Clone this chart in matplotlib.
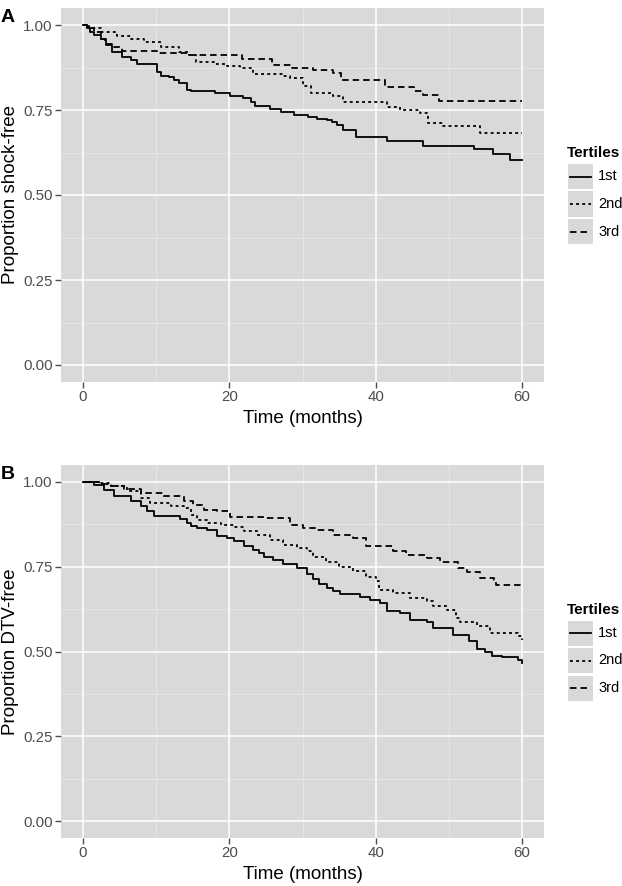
import numpy as np
import matplotlib
matplotlib.use('Agg')
import matplotlib.pyplot as plt
from matplotlib.patches import Rectangle
from matplotlib.lines import Line2D

plt.rcParams['font.family'] = ['Liberation Sans', 'DejaVu Sans']

# panel A: shock-free survival by tertile (step points)
a1_t = [0, 0.5, 1.0, 1.5, 2.4, 3.2, 4.0, 5.3, 6.6, 7.4, 10.1, 10.6, 11.7, 12.4, 13.1, 14.2, 14.7,
        18.1, 20.1, 21.9, 22.9, 23.5, 25.6, 27.0, 28.8, 30.8, 32.0, 33.3, 34.0, 34.7, 35.6, 37.3,
        41.5, 46.5, 53.5, 56.0, 58.4, 60]
a1_s = [1.0, 0.99, 0.98, 0.97, 0.958, 0.94, 0.92, 0.905, 0.898, 0.885, 0.862, 0.85, 0.846, 0.837,
        0.828, 0.81, 0.805, 0.80, 0.79, 0.785, 0.775, 0.762, 0.752, 0.745, 0.735, 0.728, 0.725,
        0.72, 0.714, 0.705, 0.69, 0.672, 0.66, 0.645, 0.635, 0.62, 0.604, 0.604]
a2_t = [0, 0.8, 2.4, 4.7, 6.5, 8.3, 10.6, 13.1, 14.5, 15.4, 17.9, 19.7, 21.5, 23.3, 27.4, 28.3,
        30.0, 31.2, 34.2, 35.6, 41.5, 43.3, 46.0, 47.2, 49.2, 54.3, 60]
a2_s = [1.0, 0.99, 0.98, 0.967, 0.96, 0.95, 0.935, 0.92, 0.912, 0.89, 0.885, 0.88, 0.873, 0.857,
        0.85, 0.845, 0.822, 0.80, 0.792, 0.775, 0.76, 0.75, 0.74, 0.713, 0.703, 0.683, 0.683]
a3_t = [0, 0.6, 1.5, 2.4, 3.0, 4.0, 5.4, 10.1, 14.5, 21.7, 25.8, 28.6, 31.5, 34.1, 35.2, 41.3,
        45.3, 46.5, 48.6, 60]
a3_s = [1.0, 0.99, 0.98, 0.958, 0.945, 0.935, 0.925, 0.917, 0.912, 0.90, 0.882, 0.875, 0.868,
        0.858, 0.838, 0.817, 0.807, 0.793, 0.777, 0.777]

# panel B: DTV-free survival by tertile
b1_t = [0, 1.5, 2.9, 4.2, 6.5, 7.9, 8.8, 9.7, 13.3, 14.2, 14.7, 15.6, 17.0, 18.3, 19.7, 20.6,
        22.0, 23.3, 24.0, 24.7, 26.0, 27.4, 29.2, 30.6, 31.5, 32.3, 33.3, 34.1, 35.1, 37.8, 39.2,
        40.6, 41.5, 43.3, 44.7, 47.0, 47.9, 50.6, 52.7, 53.9, 55.0, 55.9, 57.2, 59.5, 60]
b1_s = [1.0, 0.992, 0.977, 0.958, 0.943, 0.928, 0.915, 0.90, 0.89, 0.878, 0.87, 0.864, 0.857,
        0.84, 0.835, 0.825, 0.812, 0.80, 0.79, 0.78, 0.77, 0.758, 0.745, 0.73, 0.715, 0.70,
        0.687, 0.677, 0.67, 0.662, 0.652, 0.643, 0.618, 0.613, 0.592, 0.586, 0.569, 0.549, 0.53,
        0.507, 0.50, 0.487, 0.483, 0.475, 0.466]
b2_t = [0, 2.0, 3.8, 6.0, 7.9, 9.2, 12.0, 13.8, 14.7, 15.6, 17.0, 18.8, 20.6, 22.0, 23.8, 25.6,
        27.4, 29.2, 30.6, 31.5, 33.2, 35.0, 36.9, 38.7, 40.0, 40.4, 42.3, 44.7, 47.0, 47.9, 49.7,
        51.0, 51.5, 53.8, 55.6, 58.4, 59.5, 60]
b2_s = [1.0, 0.997, 0.987, 0.972, 0.953, 0.938, 0.928, 0.923, 0.903, 0.889, 0.879, 0.874, 0.867,
        0.854, 0.844, 0.83, 0.815, 0.805, 0.795, 0.78, 0.763, 0.75, 0.737, 0.72, 0.707, 0.682,
        0.672, 0.657, 0.65, 0.633, 0.621, 0.60, 0.586, 0.574, 0.556, 0.554, 0.545, 0.534]
b3_t = [0, 2.4, 3.8, 5.6, 7.9, 11.0, 13.8, 15.1, 16.5, 18.3, 20.1, 24.7, 28.3, 30.1, 32.0, 34.1,
        36.9, 38.7, 42.4, 44.2, 47.0, 48.8, 51.3, 52.5, 54.3, 56.1, 56.4, 60]
b3_s = [1.0, 0.995, 0.987, 0.98, 0.968, 0.96, 0.943, 0.933, 0.918, 0.913, 0.897, 0.894, 0.874,
        0.864, 0.857, 0.845, 0.835, 0.812, 0.795, 0.785, 0.776, 0.763, 0.746, 0.735, 0.716,
        0.711, 0.697, 0.697]

tertiles = ['1st', '2nd', '3rd']
styles = [dict(linestyle='-'), dict(dashes=(1.6, 1.8)), dict(dashes=(3.6, 2.2))]

bg = '#D9D9D9'
tick_col = '#4D4D4D'
lw = 1.3

fig = plt.figure(figsize=(6.22, 8.86), dpi=100)
W, H = 622., 886.


def panel(rect, curves, ylab, letter):
    ax = fig.add_axes(rect)
    ax.set_facecolor(bg)
    for sp in ax.spines.values():
        sp.set_visible(False)
    ax.set_xlim(-3, 63)
    ax.set_ylim(-0.05, 1.05)
    ax.set_xticks([0, 20, 40, 60])
    ax.set_yticks([0, 0.25, 0.5, 0.75, 1.0])
    ax.set_yticklabels(['0.00', '0.25', '0.50', '0.75', '1.00'])
    ax.set_xticks([10, 30, 50], minor=True)
    ax.set_yticks([0.125, 0.375, 0.625, 0.875], minor=True)
    ax.grid(True, which='major', color='white', lw=1.1)
    ax.grid(True, which='minor', color='#EBEBEB', lw=0.5)
    ax.set_axisbelow(True)
    ax.tick_params(which='major', length=4.3, width=1.0, color=tick_col, labelcolor=tick_col,
                   labelsize=10.8, pad=1.8)
    ax.tick_params(which='minor', length=0)
    for (t, s), st in zip(curves, styles):
        ax.step(t, s, where='post', color='black', lw=lw, **st)
    ax.set_xlabel('Time (months)', fontsize=13.5)
    ax.xaxis.set_label_coords(0.5, -0.075)
    ax.xaxis.label.set_va('top')
    ax.set_ylabel(ylab, fontsize=13.5)
    ax.yaxis.set_label_coords(-0.086, 0.5)

    # panel letter
    top_px = H * (1 - rect[1] - rect[3])
    fig.text(1 / W, 1 - (top_px + 14) / H, letter, fontsize=14, fontweight='bold')

    # legend drawn by hand (ggplot style with grey key boxes)
    cy = H * (1 - rect[1] - rect[3] / 2)
    title_top = cy - 49
    fig.text(567 / W, 1 - title_top / H, 'Tertiles', fontsize=11, fontweight='bold',
             va='top', ha='left')
    box0 = title_top + 18
    for i, (lab, st) in enumerate(zip(tertiles, styles)):
        y0 = box0 + i * 27.5
        fig.add_artist(Rectangle((567.5 / W, 1 - (y0 + 25) / H), 25 / W, 25 / H,
                                 transform=fig.transFigure, facecolor=bg, edgecolor='none'))
        yc = 1 - (y0 + 12.5) / H
        fig.add_artist(Line2D([569.5 / W, 591 / W], [yc, yc], transform=fig.transFigure,
                              color='black', lw=lw, **st))
        fig.text(598 / W, yc, lab, fontsize=10.5, va='center', ha='left')
    return ax


rectA = [61 / W, 1 - 382 / H, 483 / W, 374 / H]
rectB = [61 / W, 1 - 838 / H, 483 / W, 373 / H]
panel(rectA, [(a1_t, a1_s), (a2_t, a2_s), (a3_t, a3_s)], 'Proportion shock-free', 'A')
panel(rectB, [(b1_t, b1_s), (b2_t, b2_s), (b3_t, b3_s)], 'Proportion DTV-free', 'B')

fig.savefig('out.png', dpi=100)
